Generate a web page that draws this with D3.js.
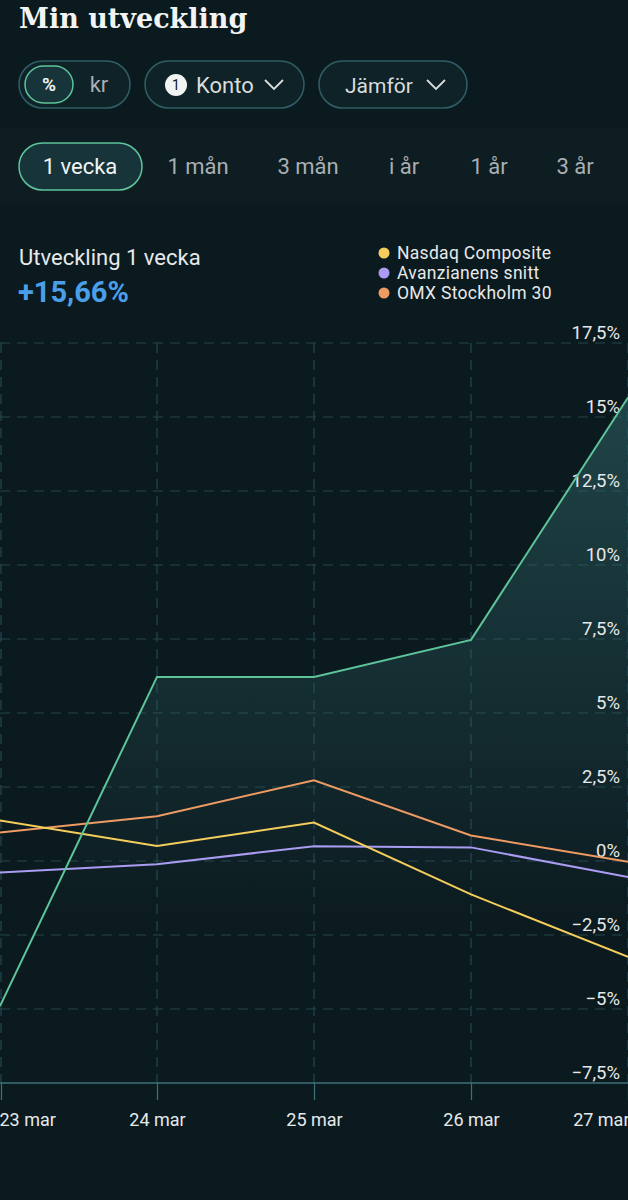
<!DOCTYPE html>
<html>
<head>
<meta charset="utf-8">
<script src="https://cdn.jsdelivr.net/npm/d3@7"></script>
<style>
  body { margin: 0; background: #0b1a1f; }
  svg { display: block; font-family: Roboto, "Noto Sans", sans-serif; }
</style>
</head>
<body>
<svg id="chart" width="628" height="1200"></svg>
<script>
// data
var dates = ["23 mar", "24 mar", "25 mar", "26 mar", "27 mar"];
var myAccount = [-4.9, 6.22, 6.22, 7.47, 15.66];
var nasdaq = [1.37, 0.51, 1.3, -1.13, -3.24];
var avanza = [-0.39, -0.11, 0.5, 0.46, -0.54];
var omx = [0.96, 1.51, 2.73, 0.86, -0.03];
var yTicks = [17.5, 15, 12.5, 10, 7.5, 5, 2.5, 0, -2.5, -5, -7.5];
var periods = ["1 vecka", "1 mån", "3 mån", "i år", "1 år", "3 år"];
var legendNames = ["Nasdaq Composite", "Avanzianens snitt", "OMX Stockholm 30"];
var legendColors = ["#f5cd5c", "#a99cf2", "#ee9a63"];

var svg = d3.select("#chart");
var W = 628;

// header
svg.append("text").attr("x", 19).attr("y", 28)
  .style("font-family", "'DejaVu Serif', serif").style("font-weight", "bold")
  .style("font-size", "27px").attr("fill", "#f2f4f4").text("Min utveckling");

// toggle pills
function pill(x, y, w, h, fill, stroke) {
  svg.append("rect").attr("x", x).attr("y", y).attr("width", w).attr("height", h)
    .attr("rx", h / 2).attr("fill", fill).attr("stroke", stroke).attr("stroke-width", 1.5);
}
pill(19, 61, 111, 47, "#0f2227", "#2e5e66");
pill(25, 66, 48, 37, "#17343a", "#5ec49a");
svg.append("text").attr("x", 49).attr("y", 91).attr("text-anchor", "middle")
  .attr("fill", "#f0f0f0").style("font-size", "19px").style("font-weight", "bold").text("%");
svg.append("text").attr("x", 99).attr("y", 92).attr("text-anchor", "middle")
  .attr("fill", "#aab0b2").style("font-size", "22px").text("kr");

pill(145, 61, 159, 47, "#0f2227", "#2e5e66");
svg.append("circle").attr("cx", 176).attr("cy", 85).attr("r", 11).attr("fill", "#f2f4f4");
svg.append("text").attr("x", 176).attr("y", 90).attr("text-anchor", "middle")
  .attr("fill", "#0b1a1f").style("font-size", "14px").text("1");
svg.append("text").attr("x", 196).attr("y", 93)
  .attr("fill", "#d8dcdd").style("font-size", "22px").text("Konto");
svg.append("path").attr("d", "M265,80 L274,89 L283,80").attr("fill", "none")
  .attr("stroke", "#d8dcdd").attr("stroke-width", 1.8);

pill(319, 61, 148, 47, "#0f2227", "#2e5e66");
svg.append("text").attr("x", 345).attr("y", 93)
  .attr("fill", "#d8dcdd").style("font-size", "21px").text("Jämför");
svg.append("path").attr("d", "M427,80 L436,89 L445,80").attr("fill", "none")
  .attr("stroke", "#d8dcdd").attr("stroke-width", 1.8);

// period tabs band
svg.append("rect").attr("x", 0).attr("y", 128).attr("width", W).attr("height", 77)
  .attr("fill", "#0e1d22");
pill(19, 143, 123, 47, "#17343a", "#5ec49a");
var tabX = [80, 198, 308, 404, 489, 575];
svg.selectAll(".tab").data(periods).enter().append("text")
  .attr("x", function(d, i) { return tabX[i]; }).attr("y", 174)
  .attr("text-anchor", "middle").style("font-size", "22px")
  .attr("fill", function(d, i) { return i === 0 ? "#f2f4f4" : "#a9afb2"; })
  .text(function(d) { return d; });

// summary
svg.append("text").attr("x", 19).attr("y", 265).attr("fill", "#e6e9ea")
  .style("font-size", "22px").text("Utveckling 1 vecka");
svg.append("text").attr("x", 18).attr("y", 302).attr("fill", "#4b9fe9")
  .style("font-size", "29px").style("font-weight", "bold").text("+15,66%");

// legend
var legend = svg.selectAll(".legend").data(legendNames).enter().append("g")
  .attr("transform", function(d, i) { return "translate(384," + (253 + i * 20) + ")"; });
legend.append("circle").attr("r", 5.5).attr("fill", function(d, i) { return legendColors[i]; });
legend.append("text").attr("x", 13).attr("y", 6).attr("fill", "#e6e9ea")
  .style("font-size", "17.5px").style("letter-spacing", "0.3px").text(function(d) { return d; });

// scales
var x = d3.scalePoint().domain(dates).range([0, W]);
var y = d3.scaleLinear().domain([-7.5, 17.5]).range([1083, 343]);
var fmt = function(v) { return String(v).replace(".", ",") + "%"; };

// grid
var grid = svg.append("g");
grid.selectAll(".hg").data(yTicks.filter(function(v) { return v !== -7.5; })).enter().append("line")
  .attr("x1", 0).attr("x2", W).attr("y1", function(d) { return y(d); }).attr("y2", function(d) { return y(d); })
  .attr("stroke", "#24464d").attr("stroke-dasharray", "10,7").attr("stroke-width", 1.2);
grid.selectAll(".vg").data(dates).enter().append("line")
  .attr("x1", function(d) { return Math.max(1, x(d)); }).attr("x2", function(d) { return Math.max(1, x(d)); })
  .attr("y1", y(17.5)).attr("y2", y(-7.5))
  .attr("stroke", "#24464d").attr("stroke-dasharray", "10,7").attr("stroke-width", 1.2);

// area under my account
var defs = svg.append("defs");
var grad = defs.append("linearGradient").attr("id", "fillGrad")
  .attr("gradientUnits", "userSpaceOnUse").attr("x1", 0).attr("x2", 0)
  .attr("y1", y(15)).attr("y2", y(-2.5));
grad.append("stop").attr("offset", 0).attr("stop-color", "#2f6466").attr("stop-opacity", 0.55);
grad.append("stop").attr("offset", 1).attr("stop-color", "#2f6466").attr("stop-opacity", 0);

var area = d3.area().x(function(d, i) { return x(dates[i]); })
  .y0(y(-7.5)).y1(function(d) { return y(d); });
svg.append("path").datum(myAccount).attr("d", area).attr("fill", "url(#fillGrad)");

// x axis
var xAxis = svg.append("g").attr("transform", "translate(0," + y(-7.5) + ")")
  .call(d3.axisBottom(x).tickSize(17).tickPadding(13));
xAxis.select(".domain").attr("stroke", "#3c7279").attr("stroke-width", 1.5)
  .attr("d", "M0,0H" + W);
xAxis.selectAll(".tick line").attr("stroke", "#3c7279").attr("stroke-width", 1.2)
  .attr("transform", function(d) { return d === dates[0] ? "translate(1,0)" : null; });
xAxis.selectAll(".tick text").attr("fill", "#e6e9ea").style("font-size", "18px")
  .style("font-family", "Roboto, sans-serif")
  .attr("text-anchor", function(d, i) { return i === 0 ? "start" : (i === dates.length - 1 ? "end" : "middle"); })
  .attr("dx", function(d, i) { return i === 0 ? -1 : (i === dates.length - 1 ? 1 : 0); });

// y labels
svg.selectAll(".ylab").data(yTicks).enter().append("text")
  .attr("x", 620).attr("y", function(d) { return y(d) - 4; })
  .attr("text-anchor", "end").attr("fill", "#e6e9ea").style("font-size", "18.5px")
  .text(function(d) { return fmt(d).replace("-", "\u2212"); });

// lines
var line = d3.line().x(function(d, i) { return x(dates[i]); }).y(function(d) { return y(d); });
var series = [
  { values: omx, color: legendColors[2] },
  { values: avanza, color: legendColors[1] },
  { values: nasdaq, color: legendColors[0] },
  { values: myAccount, color: "#5ec49a" }
];
svg.selectAll(".series").data(series).enter().append("path")
  .attr("d", function(d) { return line(d.values); })
  .attr("fill", "none").attr("stroke", function(d) { return d.color; }).attr("stroke-width", 2);
</script>
</body>
</html>
